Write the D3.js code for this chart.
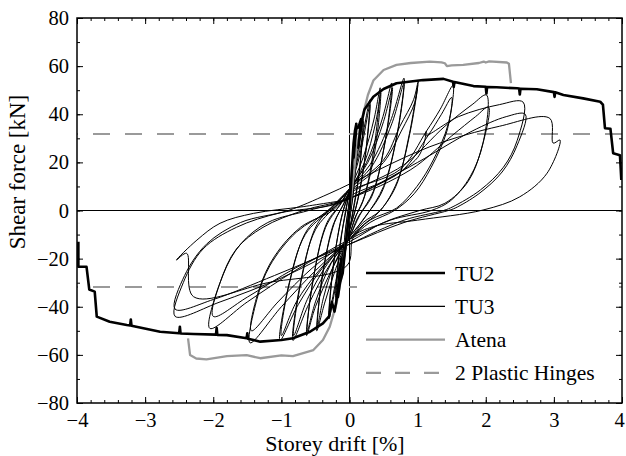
<!DOCTYPE html>
<html>
<head>
<meta charset="utf-8">
<script src="https://cdn.jsdelivr.net/npm/d3@7"></script>
<style>
  body { margin: 0; background: #fff; }
  text { font-family: "Liberation Serif", "Times New Roman", serif; fill: #000; }
</style>
</head>
<body>
<script>
// ticks
const xTicks = [-4, -3, -2, -1, 0, 1, 2, 3, 4];
const yTicks = [-80, -60, -40, -20, 0, 20, 40, 60, 80];

// 2 plastic hinges level [kN]
const hingeLevels = [31.8, -31.8];

// TU2, thick line, two branches [drift %, force kN]
const tu2Neg = [
  [-3.98, -13], [-3.98, -23.4], [-3.86, -23.4], [-3.82, -32.8], [-3.74, -33.7],
  [-3.71, -44.1], [-3.52, -46.2], [-3.27, -47.6], [-3.22, -47.8], [-3.21, -45.3],
  [-3.2, -47.9], [-2.78, -50.4], [-2.5, -51], [-2.49, -48.3], [-2.48, -51.1],
  [-2.29, -51.3], [-1.96, -51.6], [-1.95, -48.8], [-1.94, -51.7], [-1.8, -51.8],
  [-1.51, -53.1], [-1.5, -51], [-1.49, -53.3], [-1.31, -54.5], [-1.0, -53.8],
  [-0.83, -53.1], [-0.58, -50.4], [-0.39, -46.9], [-0.3, -44], [-0.26, -38],
  [-0.22, -42], [-0.19, -37.2], [-0.12, -20], [-0.17, -36], [-0.14, -30],
  [-0.1, -26], [-0.06, -15], [0, 0]
];
const tu2Pos = [
  [0, 0], [0.03, 15], [0.06, 28], [0.08, 33], [0.1, 36], [0.06, 22], [0.1, 34],
  [0.13, 34.5], [0.17, 38], [0.13, 26], [0.18, 37], [0.22, 42], [0.35, 47.3],
  [0.5, 50.5], [0.69, 52.9], [1.08, 54.2], [1.38, 54.7], [1.52, 53.5], [1.53, 51.3],
  [1.54, 53.4], [1.82, 51.7], [2.0, 51.4], [2.01, 48.6], [2.02, 51.3], [2.16, 51.2],
  [2.46, 50.8], [2.49, 50.7], [2.5, 48.2], [2.51, 50.6], [2.75, 50.4], [3.0, 49.2],
  [3.01, 47.2], [3.02, 49.1], [3.14, 48], [3.43, 46.6], [3.68, 45.2], [3.72, 44],
  [3.75, 34.2], [3.83, 34], [3.87, 23.8], [3.97, 23], [3.99, 12.7]
];

// TU3, thin line, cyclic test
const tu3 = [
  [0, 0], [0.05, 14], [0.1, 25], [0.07, 12], [0.02, 0], [-0.03, -10], [-0.1, -25],
  [-0.07, -12], [-0.02, 0], [0.03, 10], [0.1, 24], [0.06, 8], [0, -4], [-0.1, -24],
  [-0.06, -8],
  [0, 4], [0.1, 20], [0.2, 38], [0.15, 18], [0.07, 2], [0, -8], [-0.1, -20], [-0.2, -38],
  [-0.15, -18], [-0.07, -2], [0, 8], [0.1, 22], [0.2, 37], [0.14, 15], [0.05, 0],
  [0, -8], [-0.2, -36], [-0.14, -14], [-0.05, 0],
  [0, 8], [0.15, 25], [0.3, 46], [0.24, 25], [0.12, 4], [0, -8], [-0.15, -24],
  [-0.3, -45], [-0.24, -24], [-0.12, -3], [0, 8], [0.16, 24], [0.3, 44], [0.23, 22],
  [0.1, 2], [0, -8], [-0.16, -24], [-0.3, -43], [-0.23, -21], [-0.1, -1],
  [0, 8], [0.2, 22], [0.36, 38], [0.45, 51], [0.37, 28], [0.22, 6], [0.1, -2],
  [0, -10], [-0.2, -24], [-0.36, -38], [-0.48, -50], [-0.4, -28], [-0.24, -6],
  [-0.1, 2], [0, 8], [0.22, 20], [0.38, 36], [0.46, 49], [0.38, 26], [0.2, 4],
  [0.08, -3], [0, -10], [-0.22, -22], [-0.38, -36], [-0.47, -48], [-0.4, -27],
  [-0.22, -5], [-0.08, 3],
  [0, 8], [0.25, 20], [0.48, 38], [0.62, 53], [0.53, 30], [0.35, 8], [0.15, -2],
  [0, -11], [-0.25, -24], [-0.5, -40], [-0.63, -52], [-0.54, -30], [-0.35, -7],
  [-0.15, 2], [0, 9], [0.27, 20], [0.5, 37], [0.63, 51], [0.52, 28], [0.33, 6],
  [0.12, -3], [0, -11], [-0.27, -22], [-0.5, -38], [-0.62, -50], [-0.53, -28],
  [-0.33, -5], [-0.12, 3],
  [0, 9], [0.3, 19], [0.6, 37], [0.8, 55], [0.7, 32], [0.5, 10], [0.25, -2],
  [0, -11], [-0.3, -23], [-0.6, -39], [-0.83, -54], [-0.72, -30], [-0.5, -8],
  [-0.2, 2], [0, 9], [0.32, 18], [0.62, 36], [0.8, 53], [0.69, 30], [0.48, 8],
  [0.22, -3], [0, -11], [-0.32, -22], [-0.62, -37], [-0.82, -52], [-0.7, -28],
  [-0.48, -6], [-0.2, 3],
  [0, 9], [0.5, 21], [0.74, 35], [0.94, 46], [1.01, 54], [0.9, 34], [0.7, 12],
  [0.45, 0], [0.2, -5], [0, -12], [-0.4, -24], [-0.75, -39], [-1.02, -54],
  [-0.9, -32], [-0.65, -10], [-0.3, 0], [0, 8], [0.5, 20], [0.76, 33], [0.96, 45],
  [1.0, 52], [0.88, 32], [0.68, 10], [0.42, -1], [0.2, -6], [0, -12], [-0.42, -24],
  [-0.78, -38], [-1.0, -52], [-0.88, -30], [-0.62, -8], [-0.28, 1],
  [0, 8], [0.74, 17], [1.13, 33], [1.33, 42], [1.52, 52], [1.45, 36], [1.23, 21],
  [0.99, 10], [0.69, 1], [0.3, -4], [0, -12], [-0.5, -25], [-1.0, -40], [-1.46, -55],
  [-1.36, -37], [-1.17, -23], [-0.78, -9], [-0.29, 0], [0, 6], [0.75, 16],
  [1.15, 31], [1.35, 40], [1.5, 47], [1.43, 33], [1.2, 18], [0.95, 7], [0.66, 0],
  [0.3, -5], [0, -12], [-0.55, -24], [-1.05, -38], [-1.44, -50], [-1.33, -33],
  [-1.1, -19], [-0.72, -7], [-0.25, 0],
  [0, 7], [0.8, 19], [1.4, 35], [1.8, 44], [2.01, 48], [1.96, 28], [1.77, 14],
  [1.48, 4], [1.2, 0], [0.6, -4], [0, -12], [-0.8, -25], [-1.5, -38], [-2.05, -49],
  [-1.9, -30], [-1.66, -16], [-1.27, -7], [-0.68, 0], [0, 5], [0.9, 17], [1.5, 31],
  [1.85, 39], [2.04, 43], [1.94, 26], [1.74, 12], [1.4, 3], [1.03, 0], [0.5, -5],
  [0, -13], [-0.8, -24], [-1.5, -36], [-2.0, -44], [-1.86, -27], [-1.6, -14],
  [-1.2, -5], [-0.6, 0],
  [0, 5], [1.0, 22], [1.13, 33], [1.11, 31], [1.6, 39], [2.2, 44], [2.55, 45],
  [2.46, 29], [2.26, 18], [1.92, 8.5], [1.52, 1.6], [1.38, 0], [0.8, -4], [0, -14],
  [-1.0, -28], [-1.9, -38], [-2.56, -44], [-2.44, -30], [-2.15, -16], [-1.66, -7],
  [-1.02, -1], [-0.29, 2], [0, 5], [1.0, 20], [1.8, 33], [2.3, 39], [2.58, 40],
  [2.46, 27], [2.24, 16], [1.9, 7], [1.55, 1], [1.45, 0], [0.8, -5], [0, -14],
  [-1.1, -27], [-2.0, -37], [-2.56, -41], [-2.42, -27], [-2.1, -14], [-1.6, -5],
  [-0.9, 0],
  [-0.3, 7], [1.18, 26.5], [2.2, 35], [2.94, 38.3], [2.99, 28], [3.09, 29.3],
  [2.9, 15.5], [2.5, 5.7], [1.96, 0.2], [1.0, -4], [0.35, -6.7], [0.06, -11],
  [-0.04, -23], [-1.2, -30], [-2.29, -35.8], [-2.39, -17.8], [-2.54, -20.6],
  [-2.24, -12.3], [-1.9, -5.3], [-1.41, -1.2], [-0.68, 1.6], [-0.04, 4.4]
];

// Atena model, gray
const atenaPos = [
  [0, 0], [0.05, 12], [0.1, 25], [0.15, 33], [0.2, 40], [0.27, 48], [0.35, 54],
  [0.5, 58.4], [0.69, 60.5], [0.9, 61.3], [1.18, 61.9], [1.35, 61.6], [1.4, 61.2],
  [1.43, 60], [1.5, 60.3], [1.67, 60.5], [1.9, 61.3], [1.97, 61.9], [2.0, 61.5],
  [2.05, 62], [2.31, 61.5], [2.34, 61], [2.37, 52.9]
];
const atenaNeg = [
  [0, 0], [-0.05, -12], [-0.1, -25], [-0.19, -38.6], [-0.29, -48.3], [-0.39, -53.8],
  [-0.53, -58], [-0.83, -60.5], [-1.0, -60.2], [-1.31, -61.4], [-1.51, -60.1],
  [-1.8, -60.5], [-2.1, -61.9], [-2.25, -61.5], [-2.34, -60.1], [-2.37, -53.1]
];

const legendNames = ["TU2", "TU3", "Atena", "2 Plastic Hinges"];

const width = 626,
  height = 456;
const mLeft = 77,
  mRight = 622,
  mTop = 18,
  mBottom = 403;
const gray = "#9a9a9a";

const svg = d3
  .select("body")
  .append("svg")
  .attr("width", width)
  .attr("height", height);

const xScale = d3.scaleLinear().domain([-4, 4]).range([mLeft, mRight]);
const yScale = d3.scaleLinear().domain([-80, 80]).range([mBottom, mTop]);

svg
  .append("clipPath")
  .attr("id", "clip")
  .append("rect")
  .attr("x", mLeft)
  .attr("y", mTop)
  .attr("width", mRight - mLeft)
  .attr("height", mBottom - mTop);

const plot = svg.append("g").attr("clip-path", "url(#clip)");

// zero lines
plot
  .append("line")
  .attr("x1", xScale(-4))
  .attr("x2", xScale(4))
  .attr("y1", yScale(0))
  .attr("y2", yScale(0))
  .attr("stroke", "#000")
  .attr("stroke-width", 1);
plot
  .append("line")
  .attr("x1", xScale(0))
  .attr("x2", xScale(0))
  .attr("y1", yScale(-80))
  .attr("y2", yScale(80))
  .attr("stroke", "#000")
  .attr("stroke-width", 1);

const line = d3
  .line()
  .x((d) => xScale(d[0]))
  .y((d) => yScale(d[1]));

const smooth = d3
  .line()
  .x((d) => xScale(d[0]))
  .y((d) => yScale(d[1]))
  .curve(d3.curveCatmullRom.alpha(0.5));

// plastic hinges
hingeLevels.forEach((v) => {
  plot
    .append("path")
    .attr("d", line([[4, v], [-4, v]]))
    .attr("fill", "none")
    .attr("stroke", gray)
    .attr("stroke-width", 2.2)
    .attr("stroke-dasharray", "17,15");
});

// TU3
plot
  .append("path")
  .attr("d", smooth(tu3))
  .attr("fill", "none")
  .attr("stroke", "#000")
  .attr("stroke-width", 1)
  .attr("stroke-linejoin", "round");

// Atena
[atenaPos, atenaNeg].forEach((arr) => {
  plot
    .append("path")
    .attr("d", line(arr))
    .attr("fill", "none")
    .attr("stroke", gray)
    .attr("stroke-width", 2.3)
    .attr("stroke-linejoin", "round");
});

// TU2
[tu2Pos, tu2Neg].forEach((arr) => {
  plot
    .append("path")
    .attr("d", line(arr))
    .attr("fill", "none")
    .attr("stroke", "#000")
    .attr("stroke-width", 2.6)
    .attr("stroke-linejoin", "round");
});

// legend
const legend = svg.append("g").attr("id", "legend");
legend
  .append("rect")
  .attr("x", 357)
  .attr("y", 255)
  .attr("width", 262)
  .attr("height", 136)
  .attr("fill", "#fff");

const legendStyles = [
  { stroke: "#000", w: 2.6, dash: null },
  { stroke: "#000", w: 1.2, dash: null },
  { stroke: gray, w: 2.3, dash: null },
  { stroke: gray, w: 2.2, dash: "15,14" },
];
legendNames.forEach((name, i) => {
  const yy = 273 + i * 33.3;
  legend
    .append("line")
    .attr("x1", 366)
    .attr("x2", 445)
    .attr("y1", yy)
    .attr("y2", yy)
    .attr("stroke", legendStyles[i].stroke)
    .attr("stroke-width", legendStyles[i].w)
    .attr("stroke-dasharray", legendStyles[i].dash);
  legend
    .append("text")
    .attr("x", 455)
    .attr("y", yy)
    .attr("dy", "0.35em")
    .style("font-size", "21.5px")
    .text(name);
});

// axes, ticks inward on all four sides
const minorX = d3.range(-4, 4.01, 0.2);
const minorY = d3.range(-80, 81, 10);

const drawAxis = (axis, tr) => {
  const g = svg.append("g").attr("transform", tr).call(axis);
  g.select(".domain").remove();
  g.selectAll("line").attr("stroke", "#000").attr("stroke-width", 1);
  return g;
};

drawAxis(
  d3.axisBottom(xScale).tickValues(minorX).tickSize(-3).tickFormat(""),
  `translate(0,${mBottom})`
);
drawAxis(
  d3.axisTop(xScale).tickValues(minorX).tickSize(-3).tickFormat(""),
  `translate(0,${mTop})`
);
drawAxis(
  d3.axisLeft(yScale).tickValues(minorY).tickSize(-3).tickFormat(""),
  `translate(${mLeft},0)`
);
drawAxis(
  d3.axisRight(yScale).tickValues(minorY).tickSize(-3).tickFormat(""),
  `translate(${mRight},0)`
);

const xAxis = drawAxis(
  d3.axisBottom(xScale).tickValues(xTicks).tickSize(-6).tickPadding(9).tickFormat(d3.format("d")),
  `translate(0,${mBottom})`
);
drawAxis(
  d3.axisTop(xScale).tickValues(xTicks).tickSize(-6).tickFormat(""),
  `translate(0,${mTop})`
);
const yAxis = drawAxis(
  d3.axisLeft(yScale).tickValues(yTicks).tickSize(-6).tickPadding(8).tickFormat(d3.format("d")),
  `translate(${mLeft},0)`
);
drawAxis(
  d3.axisRight(yScale).tickValues(yTicks).tickSize(-6).tickFormat(""),
  `translate(${mRight},0)`
);

[xAxis, yAxis].forEach((g) =>
  g
    .selectAll("text")
    .style("font-family", '"Liberation Serif", serif')
    .style("font-size", "20.5px")
    .attr("fill", "#000")
);
// keep the last x label inside the page
xAxis
  .selectAll("text")
  .filter((d) => d === 4)
  .attr("dx", "-3");

// frame
svg
  .append("rect")
  .attr("x", mLeft)
  .attr("y", mTop)
  .attr("width", mRight - mLeft)
  .attr("height", mBottom - mTop)
  .attr("fill", "none")
  .attr("stroke", "#000")
  .attr("stroke-width", 1.5);

// axis titles
svg
  .append("text")
  .attr("x", 335)
  .attr("y", 451)
  .attr("text-anchor", "middle")
  .style("font-size", "22px")
  .text("Storey drift [%]");

svg
  .append("text")
  .attr("transform", "translate(25,172) rotate(-90)")
  .attr("text-anchor", "middle")
  .style("font-size", "23px")
  .text("Shear force [kN]");
</script>
</body>
</html>
